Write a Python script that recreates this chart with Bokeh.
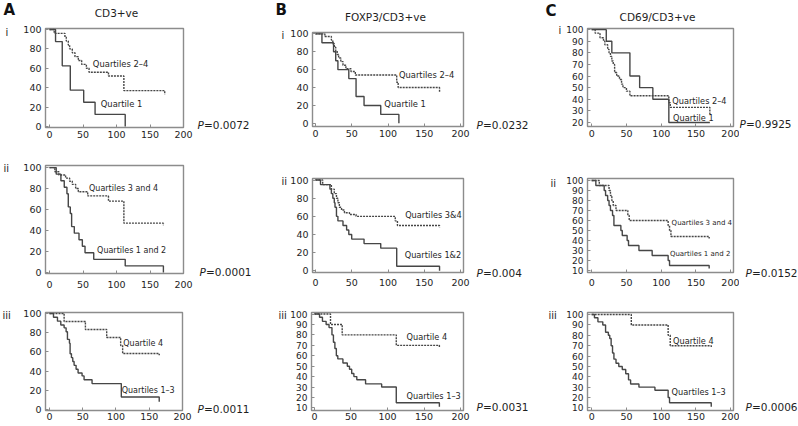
from bokeh.plotting import figure
from bokeh.layouts import column, row
from bokeh.models import Range1d, Label
from bokeh.embed import file_html
from bokeh.resources import INLINE

FONT = "DejaVu Sans"
INK = "#1e1e1e"
LINE = "#464646"
FRAME = "#8c8c8c"

# ---------------- data ----------------
x_ticks = [0, 50, 100, 150, 200]
y_ticks_a = [0, 20, 40, 60, 80, 100]
y_ticks_c1 = [20, 30, 40, 50, 60, 70, 80, 90, 100]
y_ticks_10 = [10, 20, 30, 40, 50, 60, 70, 80, 90, 100]

column_titles = ["CD3+ve", "FOXP3/CD3+ve", "CD69/CD3+ve"]
column_letters = ["A", "B", "C"]
row_numerals = ["i", "ii", "iii"]

# Panel A : CD3+ve
a1_q1_t = [0, 9, 19, 31, 51, 68, 113]
a1_q1_s = [100, 87.5, 62.5, 37.5, 25, 12.5, 0]
a1_q24_t = [0, 7, 23, 25, 28, 30, 34, 38, 43, 48, 55, 59, 88, 111, 172]
a1_q24_s = [100, 96, 92, 88, 84, 80, 76, 72, 68, 64, 60, 56, 52, 37, 33]
a2_q12_t = [0, 10, 17, 22, 26, 28, 31, 33, 37, 44, 49, 53, 66, 113, 170]
a2_q12_s = [100, 93.75, 87.5, 81.25, 75, 62.5, 56.25, 43.75, 37.5, 31.25, 25, 18.75, 12.5, 6.25, 0]
a2_q34_t = [0, 8, 14, 24, 30, 34, 39, 43, 57, 88, 111, 170]
a2_q34_s = [100, 96, 93, 90, 87, 84, 80, 77, 73, 68, 47, 45]
a3_q13_t = [0, 6, 12, 17, 22, 25, 27, 30, 31, 33, 35, 37, 40, 43, 49, 52, 64, 108, 165]
a3_q13_s = [100, 96, 92, 88, 85, 81, 73, 69, 58, 54, 50, 46, 42, 38, 35, 31, 27, 13, 8]
a3_q4_t = [0, 22, 54, 86, 107, 110, 165]
a3_q4_s = [100, 91.7, 83.3, 75, 66.7, 58.3, 56.5]

# Panel B : FOXP3/CD3+ve
b1_q1_t = [0, 9, 25, 28, 31, 46, 56, 67, 90, 115]
b1_q1_s = [100, 90, 80, 70, 60, 50, 30, 20, 10, 0]
b1_q24_t = [0, 13, 22, 24, 26, 28, 30, 32, 35, 38, 42, 49, 55, 112, 114, 171]
b1_q24_s = [100, 97, 93, 89, 85, 81, 77, 73, 69, 65, 61, 58, 54, 46, 40, 35]
b2_q12_t = [0, 7, 20, 22, 24, 26, 27, 29, 31, 38, 43, 46, 50, 67, 90, 112, 171]
b2_q12_s = [100, 95, 90, 85, 80, 75, 70, 60, 55, 50, 45, 40, 35, 30, 25, 5, 0]
b2_q34_t = [0, 10, 22, 26, 29, 31, 33, 36, 40, 47, 56, 110, 113, 171]
b2_q34_s = [100, 95, 90, 85, 80, 75, 70, 67, 64, 62, 60, 55, 50, 48]
b3_q13_t = [0, 7, 11, 16, 20, 24, 26, 28, 30, 32, 39, 45, 48, 51, 54, 58, 70, 92, 112, 171]
b3_q13_s = [100, 97, 93, 90, 87, 80, 73, 67, 60, 57, 53, 50, 47, 43, 40, 37, 33, 30, 15, 11]
b3_q4_t = [0, 22, 38, 112, 171]
b3_q4_s = [100, 90, 80, 70, 68]

# Panel C : CD69/CD3+ve
c1_q1_t = [0, 21, 29, 55, 69, 88, 111, 170]
c1_q1_s = [100, 90, 80, 60, 50, 40, 20, 20]
c1_q24_t = [0, 5, 12, 17, 19, 23, 25, 27, 29, 31, 33, 36, 40, 43, 45, 50, 55, 111, 113, 170]
c1_q24_s = [100, 97, 93, 90, 87, 83, 80, 77, 73, 70, 63, 60, 57, 53, 50, 47, 43, 37, 33, 27]
c2_q12_t = [0, 6, 18, 20, 23, 25, 27, 30, 32, 42, 44, 51, 53, 68, 87, 110, 112, 169]
c2_q12_s = [100, 95, 90, 85, 80, 75, 70, 65, 55, 50, 45, 40, 35, 30, 25, 20, 15, 12]
c2_q34_t = [0, 11, 25, 27, 29, 31, 35, 52, 54, 110, 112, 114, 169]
c2_q34_s = [100, 95, 90, 85, 80, 75, 70, 65, 60, 55, 50, 44, 42]
c3_q13_t = [0, 4, 9, 16, 20, 24, 26, 28, 30, 32, 35, 39, 44, 49, 53, 56, 68, 91, 110, 112, 172]
c3_q13_s = [100, 97, 93, 90, 83, 80, 77, 70, 63, 57, 53, 50, 47, 43, 37, 33, 30, 27, 20, 15, 11]
c3_q4_t = [0, 57, 110, 113, 172]
c3_q4_s = [100, 90, 80, 70, 68]

p_values = [["0.0072", "0.0001", "0.0011"],
            ["0.0232", "0.004", "0.0031"],
            ["0.9925", "0.0152", "0.0006"]]

# ---------------- layout (page pixels) ----------------
header_px = (0, 23)
rows_px = [(23, 148), (148, 296), (296, 425)]
km_cols = [(20, 195), (287, 473), (563, 739)]
text_cols = [(0, 20), (195, 287), (473, 563), (739, 798)]

# numeral positions (left, middle) and P-value positions (left, middle), by [row][col]
numeral_pos = [[(5, 31.5), (281, 35), (558, 30)],
               [(3, 167.5), (281, 180.5), (550, 183)],
               [(2, 315), (278, 315), (548, 315)]]
pvalue_pos = [[(197, 124), (476, 124), (739, 123)],
              [(199, 271), (476, 272), (745, 272)],
              [(197, 408), (476, 406), (745, 406)]]
letter_pos = [(3, 9), (275, 9), (545, 10)]
title_pos = [(116, 12.5), (385, 16), (657, 16.5)]

panels = [
    dict(c=0, r=0, frame=(43, 28, 183, 127), xr=(-6, 200), yr=(-1, 101), yt=y_ticks_a, yfs="9.5px", std=3,
         curves=[(a1_q24_t, a1_q24_s, True), (a1_q1_t, a1_q1_s, False)],
         labels=[("Quartiles 2\u20134", 64.7, 64.4), ("Quartile 1", 76.5, 22.7)], lfs="8.4px"),
    dict(c=0, r=1, frame=(43, 165, 183, 273), xr=(-6, 200), yr=(-1, 102), yt=y_ticks_a, yfs="9.5px", std=7,
         curves=[(a2_q34_t, a2_q34_s, True), (a2_q12_t, a2_q12_s, False)],
         labels=[("Quartiles 3 and 4", 59, 80), ("Quartiles 1 and 2", 71, 21)], lfs="8px"),
    dict(c=0, r=2, frame=(43, 312, 182, 410), xr=(-6, 200), yr=(-1, 101), yt=y_ticks_a, yfs="9.5px", std=2,
         curves=[(a3_q4_t, a3_q4_s, True), (a3_q13_t, a3_q13_s, False)],
         labels=[("Quartile 4", 111, 68.7), ("Quartiles 1\u20133", 108.6, 19.3)], lfs="8px"),
    dict(c=1, r=0, frame=(309, 32, 463, 126), xr=(-4, 204), yr=(-3.5, 101.5), yt=y_ticks_a, yfs="9.5px", std=3,
         curves=[(b1_q24_t, b1_q24_s, True), (b1_q1_t, b1_q1_s, False)],
         labels=[("Quartiles 2\u20134", 115, 54.5), ("Quartile 1", 95, 21.5)], lfs="8.4px"),
    dict(c=1, r=1, frame=(309, 178, 463, 272), xr=(-4, 204), yr=(-1.8, 101.7), yt=y_ticks_a, yfs="9.5px", std=6,
         curves=[(b2_q34_t, b2_q34_s, True), (b2_q12_t, b2_q12_s, False)],
         labels=[("Quartiles 3&4", 123.6, 62), ("Quartiles 1&2", 123, 17)], lfs="8.2px"),
    dict(c=1, r=2, frame=(309, 312, 463, 410), xr=(-4, 204), yr=(7.5, 101.5), yt=y_ticks_10, yfs="9px", std=2,
         curves=[(b3_q4_t, b3_q4_s, True), (b3_q13_t, b3_q13_s, False)],
         labels=[("Quartile 4", 126, 77.6), ("Quartiles 1\u20133", 126, 21)], lfs="8.2px"),
    dict(c=2, r=0, frame=(585, 28, 733, 126), xr=(-6, 204), yr=(16.5, 101), yt=y_ticks_c1, yfs="9px", std=3,
         curves=[(c1_q24_t, c1_q24_s, True), (c1_q1_t, c1_q1_s, False)],
         labels=[("Quartiles 2\u20134", 116, 38.5), ("Quartile 1", 117, 24)], lfs="8.2px"),
    dict(c=2, r=1, frame=(585, 178, 733, 272), xr=(-6, 204), yr=(8, 102), yt=y_ticks_10, yfs="9px", std=6,
         curves=[(c2_q34_t, c2_q34_s, True), (c2_q12_t, c2_q12_s, False)],
         labels=[("Quartiles 3 and 4", 115, 57.8), ("Quartiles 1 and 2", 112.5, 26.3)], lfs="7px"),
    dict(c=2, r=2, frame=(585, 312, 733, 410), xr=(-6, 204), yr=(7.5, 102), yt=y_ticks_10, yfs="9px", std=2,
         curves=[(c3_q4_t, c3_q4_s, True), (c3_q13_t, c3_q13_s, False)],
         labels=[("Quartile 4", 117, 74.4), ("Quartiles 1\u20133", 115, 25)], lfs="8.2px"),
]


def no_align(p):
    if "frame_align" in p.properties():
        p.frame_align = False


def km_panel(cfg):
    cl, cr = km_cols[cfg["c"]]
    rt, rb = rows_px[cfg["r"]]
    fl, ft, fr, fb = cfg["frame"]
    p = figure(width=cr - cl, height=rb - rt,
               x_range=Range1d(*cfg["xr"]), y_range=Range1d(*cfg["yr"]),
               min_border_left=fl - cl, min_border_right=cr - fr,
               min_border_top=ft - rt, min_border_bottom=rb - fb,
               output_backend="svg", toolbar_location=None)
    no_align(p)
    p.grid.visible = False
    p.outline_line_color = FRAME
    p.outline_line_width = 1.4
    p.background_fill_color = "white"
    p.border_fill_color = "white"
    for ax in (p.xaxis[0], p.yaxis[0]):
        ax.axis_line_color = None
        ax.major_tick_in = 3
        ax.major_tick_out = 0
        ax.major_tick_line_color = FRAME
        ax.minor_tick_line_color = None
        ax.major_label_text_font = FONT
        ax.major_label_text_color = INK
    p.xaxis.ticker = x_ticks
    p.xaxis.major_label_text_font_size = "9.5px"
    p.xaxis.major_label_standoff = cfg["std"]
    p.yaxis.ticker = cfg["yt"]
    p.yaxis.major_label_text_font_size = cfg["yfs"]
    p.yaxis.major_label_standoff = 4

    for t, s, dashed in cfg["curves"]:
        p.step(t, s, mode="after", line_color=LINE, line_width=1.4,
               line_dash="2 1" if dashed else "solid")

    for txt, lx, ly in cfg["labels"]:
        p.add_layout(Label(x=lx, y=ly, text=txt, text_font=FONT, text_font_size=cfg["lfs"],
                           text_color=INK, text_baseline="middle", text_align="left"))
    return p


def text_strip(x0, x1, y0, y1):
    p = figure(width=x1 - x0, height=y1 - y0,
               x_range=Range1d(x0, x1), y_range=Range1d(y1, y0),
               x_axis_location=None, y_axis_location=None,
               min_border_left=0, min_border_right=0, min_border_top=0, min_border_bottom=0,
               output_backend="svg", toolbar_location=None)
    no_align(p)
    p.grid.visible = False
    p.outline_line_color = None
    p.background_fill_color = "white"
    p.border_fill_color = "white"
    return p


def add_pvalue(p, c, r):
    x, y = pvalue_pos[r][c]
    p.add_layout(Label(x=x, y=y, text="P", text_font=FONT, text_font_size="10.5px",
                       text_font_style="italic", text_color=INK, text_baseline="middle"))
    p.add_layout(Label(x=x, y=y, x_offset=6.5, text="=" + p_values[c][r], text_font=FONT,
                       text_font_size="10.5px", text_color=INK, text_baseline="middle"))


def add_numeral(p, c, r):
    x, y = numeral_pos[r][c]
    p.add_layout(Label(x=x, y=y, text=row_numerals[r], text_font=FONT, text_font_size="10px",
                       text_color=INK, text_baseline="middle"))


# header strip with panel letters and column titles
header = text_strip(0, 798, header_px[0], header_px[1])
for c in range(3):
    lx, ly = letter_pos[c]
    header.add_layout(Label(x=lx, y=ly, text=column_letters[c], text_font=FONT, text_font_size="15px",
                            text_font_style="bold", text_color="#111111", text_baseline="middle"))
    tx, ty = title_pos[c]
    header.add_layout(Label(x=tx, y=ty, text=column_titles[c], text_font=FONT, text_font_size="10.5px",
                            text_color=INK, text_align="center", text_baseline="middle"))

km = {(cfg["r"], cfg["c"]): km_panel(cfg) for cfg in panels}

row_layouts = []
for r in range(3):
    y0, y1 = rows_px[r]
    strips = [text_strip(x0, x1, y0, y1) for (x0, x1) in text_cols]
    for c in range(3):
        add_numeral(strips[c], c, r)
        add_pvalue(strips[c + 1], c, r)
    children = [strips[0], km[(r, 0)], strips[1], km[(r, 1)], strips[2], km[(r, 2)], strips[3]]
    row_layouts.append(row(*children, spacing=0))

layout = column(header, *row_layouts, spacing=0)

open("out.html", "w").write(file_html(layout, INLINE))
